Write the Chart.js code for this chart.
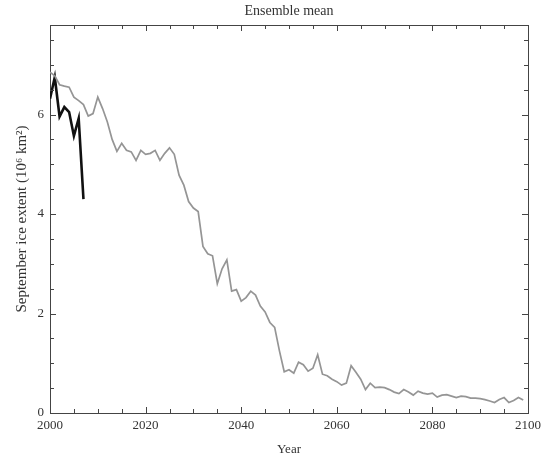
<!DOCTYPE html>
<html>
<head>
<meta charset="utf-8">
<script src="https://cdn.jsdelivr.net/npm/chart.js@4.4.1/dist/chart.umd.min.js"></script>
<style>
	html, body { margin: 0; padding: 0; background: #fff; }
	#wrap { width: 547px; height: 457px; }
</style>
</head>
<body>
<div id="wrap"><canvas id="iceChart" width="547" height="457"></canvas></div>
<script>
const firstModelYear = 2000;

// ensemble mean, one value per year 2000..2099 (10^6 km^2)
const modelExtent = [
	6.85, 6.78, 6.60, 6.57, 6.55, 6.35, 6.28, 6.20, 5.97, 6.02,
	6.35, 6.12, 5.85, 5.50, 5.26, 5.42, 5.28, 5.25, 5.08, 5.28,
	5.20, 5.22, 5.28, 5.08, 5.22, 5.33, 5.20, 4.78, 4.58, 4.25,
	4.12, 4.05, 3.35, 3.20, 3.16, 2.60, 2.90, 3.08, 2.45, 2.48,
	2.25, 2.32, 2.45, 2.37, 2.15, 2.03, 1.82, 1.72, 1.25, 0.83,
	0.87, 0.80, 1.02, 0.97, 0.84, 0.90, 1.17, 0.78, 0.75, 0.68,
	0.63, 0.56, 0.60, 0.95, 0.82, 0.68, 0.47, 0.60, 0.51, 0.52,
	0.51, 0.47, 0.42, 0.39, 0.47, 0.42, 0.36, 0.44, 0.40, 0.38,
	0.40, 0.32, 0.36, 0.37, 0.34, 0.31, 0.34, 0.33, 0.30, 0.30,
	0.29, 0.27, 0.24, 0.21, 0.27, 0.31, 0.21, 0.25, 0.31, 0.26
];

// observed September extent
const obsYears = [2000, 2001, 2002, 2003, 2004, 2005, 2006, 2007];
const obsExtent = [6.32, 6.75, 5.96, 6.15, 6.05, 5.57, 5.92, 4.30];

const xTickLabels = [2000, 2020, 2040, 2060, 2080, 2100];
const yTickLabels = [0, 2, 4, 6];

const serif = "'Liberation Serif', 'DejaVu Serif', serif";
const ink = "#333";

// inward ticks on all four sides, placed through the chart's own scales
const innerTicks = {
	id: "innerTicks",
	afterDraw(chart){
		const {ctx, chartArea: a, scales} = chart;
		ctx.save();
		ctx.strokeStyle = "#444";
		ctx.lineWidth = 1;
		ctx.beginPath();
		for(let yr = 2000; yr <= 2100; yr += 5){
			const px = Math.round(scales.x.getPixelForValue(yr)) + 0.5;
			const len = yr % 20 == 0 ? 6 : 4;
			ctx.moveTo(px, a.bottom); ctx.lineTo(px, a.bottom - len);
			ctx.moveTo(px, a.top); ctx.lineTo(px, a.top + len);
		}
		for(let v = 0.5; v < 7.8; v += 0.5){
			const py = Math.round(scales.y.getPixelForValue(v)) + 0.5;
			const len = v % 2 == 0 ? 6 : 4;
			ctx.moveTo(a.left, py); ctx.lineTo(a.left + len, py);
			ctx.moveTo(a.right, py); ctx.lineTo(a.right - len, py);
		}
		ctx.stroke();
		ctx.restore();
	}
};

const ctx = document.getElementById("iceChart").getContext("2d");
new Chart(ctx, {
	type: "line",
	data: {
		datasets: [{
			label: "Ensemble mean",
			data: modelExtent.map((v, i) => ({x: firstModelYear + i, y: v})),
			borderColor: "#959595",
			borderWidth: 1.7,
			pointRadius: 0,
			tension: 0
		}, {
			label: "Observed",
			data: obsYears.map((yr, i) => ({x: yr, y: obsExtent[i]})),
			borderColor: "#111",
			borderWidth: 2.6,
			pointRadius: 0,
			tension: 0
		}]
	},
	options: {
		responsive: false,
		animation: false,
		layout: { padding: 0 },
		plugins: {
			legend: { display: false },
			tooltip: { enabled: false }
		},
		scales: {
			x: {
				type: "linear",
				position: "bottom",
				min: 2000,
				max: 2100,
				afterBuildTicks: s => { s.ticks = xTickLabels.map(v => ({value: v})); },
				afterFit: s => { s.height = 44; },
				ticks: {
					color: ink,
					padding: 5,
					maxRotation: 0,
					font: {family: serif, size: 13},
					callback: v => String(v)
				},
				grid: { display: false, drawTicks: false },
				border: { display: true, color: "#444", width: 1 },
				title: {
					display: true,
					text: "Year",
					color: ink,
					font: {family: serif, size: 13},
					padding: {top: 1, bottom: 0}
				}
			},
			x2: {
				type: "linear",
				position: "top",
				min: 2000,
				max: 2100,
				afterFit: s => { s.height = 25; },
				ticks: { display: false },
				grid: { display: false, drawTicks: false },
				border: { display: true, color: "#444", width: 1 },
				title: {
					display: true,
					text: "Ensemble mean",
					color: ink,
					font: {family: serif, size: 14},
					padding: {top: 3, bottom: 0}
				}
			},
			y: {
				position: "left",
				min: 0,
				max: 7.8,
				afterBuildTicks: s => { s.ticks = yTickLabels.map(v => ({value: v})); },
				afterFit: s => { s.width = 50; },
				ticks: {
					color: ink,
					padding: 6,
					font: {family: serif, size: 13},
					callback: v => String(v)
				},
				grid: { display: false, drawTicks: false },
				border: { display: true, color: "#444", width: 1 },
				title: {
					display: true,
					text: "September ice extent (10\u2076 km\u00b2)",
					color: ink,
					font: {family: serif, size: 15},
					padding: {top: 13, bottom: 0}
				}
			},
			y2: {
				position: "right",
				min: 0,
				max: 7.8,
				afterFit: s => { s.width = 19; },
				ticks: { display: false },
				grid: { display: false, drawTicks: false },
				border: { display: true, color: "#444", width: 1 }
			}
		}
	},
	plugins: [innerTicks]
});
</script>
</body>
</html>
